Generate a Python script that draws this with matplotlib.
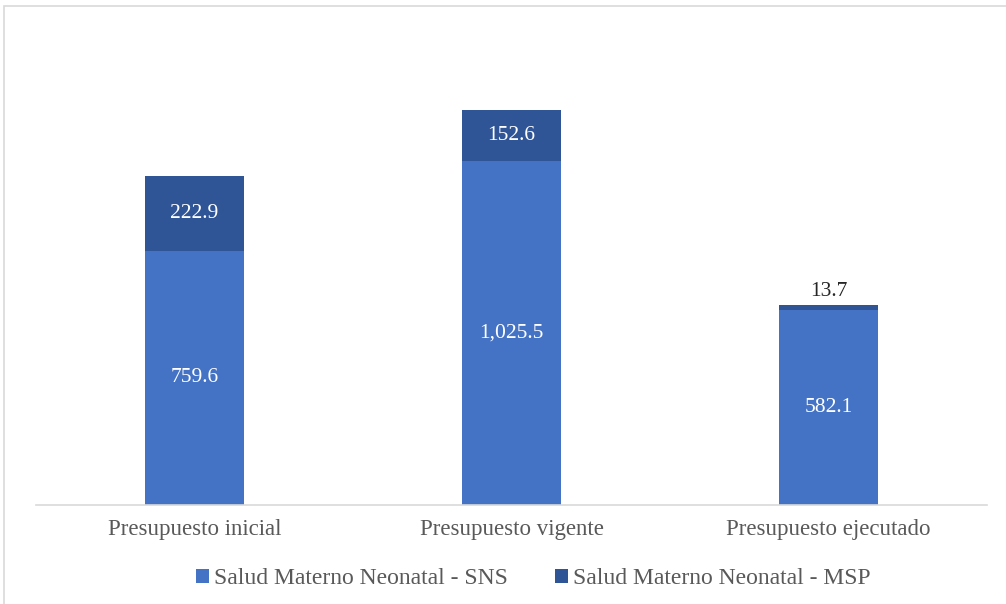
import matplotlib.pyplot as plt
from matplotlib.patches import Rectangle

categories = ["Presupuesto inicial", "Presupuesto vigente", "Presupuesto ejecutado"]
sns_vals = [759.6, 1025.5, 582.1]
msp_vals = [222.9, 152.6, 13.7]
series_names = ["Salud Materno Neonatal - SNS", "Salud Materno Neonatal - MSP"]

c_sns = "#4472C4"
c_msp = "#2F5597"
gray = "#595959"

plt.rcParams["font.family"] = ["Liberation Serif", "DejaVu Serif"]

fig = plt.figure(figsize=(10.06, 6.04), dpi=100)
ax = fig.add_axes([36 / 1006, 99 / 604, 951 / 1006, 469 / 604])

x = range(len(categories))
b1 = ax.bar(x, sns_vals, width=0.31, color=c_sns, label=series_names[0])
b2 = ax.bar(x, msp_vals, width=0.31, bottom=sns_vals, color=c_msp, label=series_names[1])

fs = 15.5
for i, v in enumerate(sns_vals):
    ax.text(i, v / 2, f"{v:,.1f}", ha="center", va="center", color="white", fontsize=fs)
for i, v in enumerate(msp_vals):
    if v > 50:
        ax.text(i, sns_vals[i] + v / 2, f"{v:,.1f}", ha="center", va="center",
                color="white", fontsize=fs)
    else:
        ax.text(i, sns_vals[i] + v + 14, f"{v:,.1f}", ha="center", va="bottom",
                color="#262626", fontsize=fs)

ax.set_xlim(-0.5, 2.5)
ax.set_ylim(0, 1400)
ax.set_xticks(list(x))
ax.set_xticklabels(categories, fontsize=16.5, color=gray)
ax.tick_params(axis="x", length=0, pad=10)
ax.set_yticks([])
for s in ["top", "right", "left"]:
    ax.spines[s].set_visible(False)
ax.spines["bottom"].set_color("#D9D9D9")
ax.spines["bottom"].set_linewidth(1.2)

leg = fig.legend(handles=[b1, b2], loc="center", bbox_to_anchor=(0.53, 1 - 579 / 604),
                 ncol=2, frameon=False, fontsize=17, handlelength=0.55, handleheight=0.55,
                 handletextpad=0.2, columnspacing=2.0)
for t in leg.get_texts():
    t.set_color(gray)

fig.patches.append(Rectangle((4 / 1006, -0.1), 1.2, 1.1 - 6 / 604, transform=fig.transFigure,
                             fill=False, edgecolor="#D9D9D9", linewidth=1.2, figure=fig))

fig.savefig("out.png", dpi=100)
